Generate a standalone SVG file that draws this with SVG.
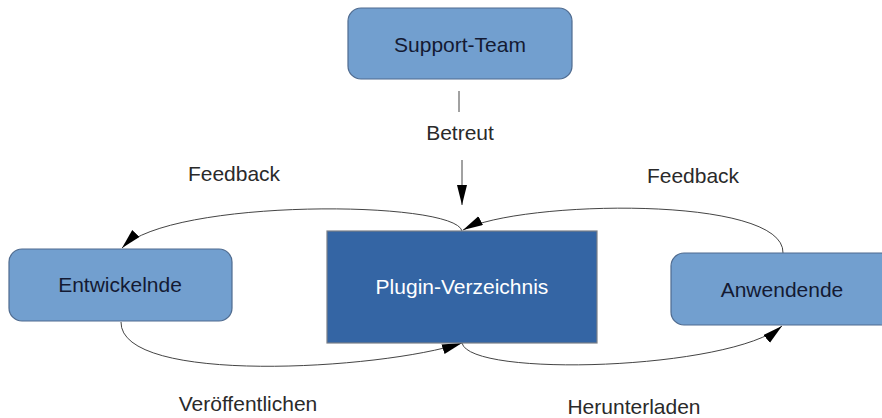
<svg xmlns="http://www.w3.org/2000/svg" width="882" height="418" viewBox="0 0 882 418">
<style>
.node{fill:#729fcf;stroke:#4f6b8f;stroke-width:1.2}
.main{fill:#3465a4;stroke:#7a7f88;stroke-width:1.2}
.nt{font-family:"Liberation Sans",Arial,sans-serif;font-size:21px;fill:#141a33;text-anchor:middle}
.mt{font-family:"Liberation Sans",Arial,sans-serif;font-size:21px;fill:#ffffff;text-anchor:middle}
.lbl{font-family:"Liberation Sans",Arial,sans-serif;font-size:21px;fill:#2a2a2a;text-anchor:middle}
.edge{fill:none;stroke:#444;stroke-width:1}
</style>
<defs>
<marker id="arr" markerUnits="userSpaceOnUse" markerWidth="22" markerHeight="12" refX="20" refY="5" orient="auto">
<path d="M0,0 L20,5 L0,10 z" fill="#000"/>
</marker>
</defs>
<rect width="882" height="418" fill="#ffffff"/>
<g id="connectors">
<line class="edge" x1="459" y1="91" x2="459" y2="112"/>
<line class="edge" x1="462" y1="160" x2="462" y2="205" marker-end="url(#arr)"/>
<path class="edge" d="M462,231 C455,200 170,198 122,248" marker-end="url(#arr)"/>
<path class="edge" d="M783,253 C785,195 520,200 463,230" marker-end="url(#arr)"/>
<path class="edge" d="M121,322 C120,385 380,370 462,343" marker-end="url(#arr)"/>
<path class="edge" d="M462,343 C470,378 730,370 782,326" marker-end="url(#arr)"/>
<text class="lbl" x="460" y="140">Betreut</text>
<text class="lbl" x="234" y="181">Feedback</text>
<text class="lbl" x="693" y="183">Feedback</text>
<text class="lbl" x="248" y="411">Veröffentlichen</text>
<text class="lbl" x="634" y="414">Herunterladen</text>
</g>
<g id="support-team">
<rect class="node" x="348" y="8" width="224" height="71" rx="13"/>
<text class="nt" x="460" y="52">Support-Team</text>
</g>
<g id="entwickelnde">
<rect class="node" x="9" y="249" width="223" height="72" rx="13"/>
<text class="nt" x="120" y="292">Entwickelnde</text>
</g>
<g id="plugin-verzeichnis">
<rect class="main" x="327" y="231" width="270" height="112"/>
<text class="mt" x="462" y="294">Plugin-Verzeichnis</text>
</g>
<g id="anwendende">
<rect class="node" x="671" y="253" width="222" height="72" rx="13"/>
<text class="nt" x="782" y="297">Anwendende</text>
</g>
</svg>
